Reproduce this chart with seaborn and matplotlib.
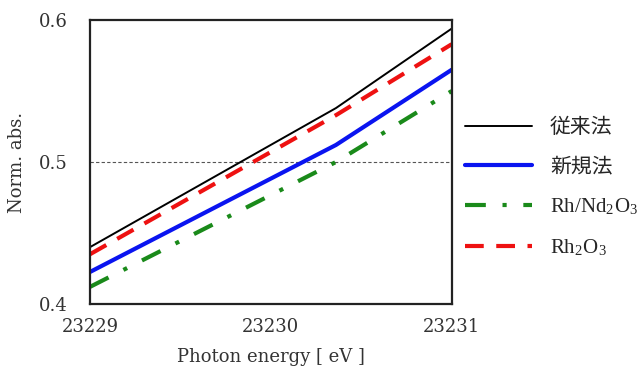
import numpy as np
import pandas as pd
import matplotlib
matplotlib.use('Agg')
import matplotlib.pyplot as plt
import seaborn as sns

# dane
energy = [23229.0, 23230.36, 23231.0]
conventional = [0.440, 0.538, 0.594]
new_method = [0.4225, 0.512, 0.565]
rh_nd2o3 = [0.412, 0.500, 0.550]
rh2o3 = [0.435, 0.533, 0.583]

labels = ['従来法', '新規法', r'Rh/Nd$_\mathregular{2}$O$_\mathregular{3}$', r'Rh$_\mathregular{2}$O$_\mathregular{3}$']
x_ticks = [23229, 23230, 23231]
y_ticks = [0.4, 0.5, 0.6]

sns.set_style('white')
plt.rcParams['font.family'] = ['DejaVu Serif', 'Noto Sans CJK JP']
plt.rcParams['mathtext.fontset'] = 'stix'

df = pd.DataFrame({'energy': energy, 'c': conventional, 'n': new_method,
                   'g': rh_nd2o3, 'r': rh2o3})

fig = plt.figure(figsize=(6.38, 3.72), dpi=100)
ax = fig.add_axes([0.141, 0.183, 0.567, 0.763])

ax.axhline(0.5, color='#555555', lw=0.8, ls=(0, (3, 2)), zorder=1)
sns.lineplot(data=df, x='energy', y='c', ax=ax, color='black', lw=1.4, label=labels[0])
sns.lineplot(data=df, x='energy', y='n', ax=ax, color='#0a14f0', lw=3, label=labels[1])
sns.lineplot(data=df, x='energy', y='g', ax=ax, color='#1a8a1a', lw=3,
             ls=(0, (5, 4, 1, 4)), label=labels[2])
sns.lineplot(data=df, x='energy', y='r', ax=ax, color='#ee1111', lw=3,
             ls=(0, (4.5, 3)), label=labels[3])

ax.set_xlim(23229, 23231)
ax.set_ylim(0.4, 0.6)
ax.set_xticks(x_ticks)
ax.set_xticklabels([str(t) for t in x_ticks])
ax.set_yticks(y_ticks)
ax.set_yticklabels([f'{t:.1f}' for t in y_ticks])
ax.tick_params(axis='both', length=0, labelsize=13, colors='#333333')
ax.tick_params(axis='y', pad=16)
ax.tick_params(axis='x', pad=10)
for s in ax.spines.values():
    s.set_color('#222222')
    s.set_linewidth(1.6)

ax.set_xlabel('Photon energy [ eV ]', fontsize=13, color='#333333', labelpad=9)
ax.set_ylabel('Norm. abs.', fontsize=13, color='#333333', labelpad=9)

leg = ax.legend(loc='center left', bbox_to_anchor=(0.716, 0.494),
                bbox_transform=fig.transFigure, borderaxespad=0, frameon=False,
                prop={'family': ['Liberation Serif', 'Noto Sans CJK JP'], 'size': 15},
                handlelength=3.2, handletextpad=0.87, labelspacing=0.95)

fig.savefig('out.png', dpi=100)
